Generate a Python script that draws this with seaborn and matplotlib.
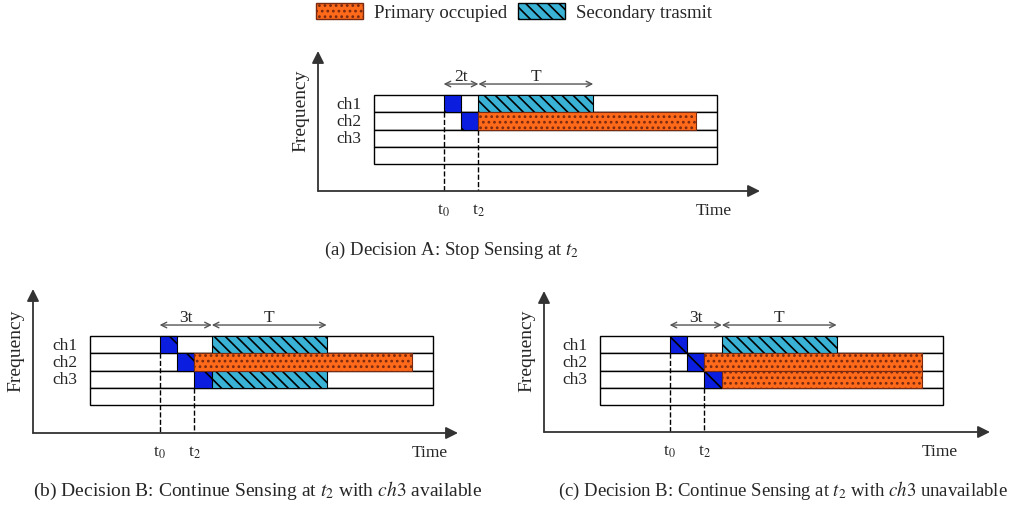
"""Channel sensing decision diagram: three panels of time/frequency slots."""

import matplotlib

matplotlib.use("Agg")

import matplotlib.pyplot as plt
import seaborn as sns
from matplotlib.patches import Patch

# ---- data (time in sensing slots, channels as rows) ----
CHANNELS = ["ch1", "ch2", "ch3", ""]
GRID_LEN = 19.7          # length of the channel grid in slots
T0 = 4.0                 # start of sensing
T2 = 6.0                 # decision time
T_LEN = 6.6              # secondary transmit duration T
PRIMARY_END = 18.5       # end of the primary occupation

A_SENSED = ["ch1", "ch2"]
A_SECONDARY = [("ch1", 6.0)]
A_PRIMARY = [("ch2", 6.0)]

B_SENSED = ["ch1", "ch2", "ch3"]
B_SECONDARY = [("ch1", 7.0), ("ch3", 7.0)]
B_PRIMARY = [("ch2", 6.0)]

C_SENSED = ["ch1", "ch2", "ch3"]
C_SECONDARY = [("ch1", 7.0)]
C_PRIMARY = [("ch2", 6.0), ("ch3", 7.0)]

CAPTIONS = [
    r"(a) Decision A: Stop Sensing at $t_2$",
    r"(b) Decision B: Continue Sensing at $t_2$ with $ch3$ available",
    r"(c) Decision B: Continue Sensing at $t_2$ with $ch3$ unavailable",
]
SENSE_LABELS = ["2t", "3t", "3t"]

# ---- styling ----
ORANGE = "#FF6A1A"
TEAL = "#3AB2D6"
BLUE = "#0B1EE0"
AXIS_GREY = "#333333"
W, H = 1016, 506
PX_SLOT, PX_ROW = 17.4, 17.2

# pixel frames: y-axis x, x-axis y, arrow tip right, arrow tip top, grid left, grid bottom
FRAMES = [
    (318, 192, 760, 52, 374, 165),
    (33, 434, 458, 290, 90, 406),
    (544, 433, 990, 292, 600, 406),
]
CAPTION_POS = [(452, 250), (258, 491), (783, 491)]
CAPTION_SIZE = [13.5, 14.0, 13.5]

sns.set_theme(style="white")
plt.rcParams["font.family"] = ["Liberation Serif", "DejaVu Serif"]
plt.rcParams["mathtext.fontset"] = "stix"
plt.rcParams["hatch.linewidth"] = 1.2


def row_of(channel):
    """Bottom y of a channel row (ch1 on top)."""
    return len(CHANNELS) - 1 - CHANNELS.index(channel)


def draw_panel(fig, frame, sensed, secondary, primary, sense_label):
    ax_x, ax_y, tip_x, tip_y, grid_x, grid_y = frame
    ax = fig.add_axes([ax_x / W, 1 - ax_y / H, (tip_x - ax_x) / W, (ax_y - tip_y) / H])
    x0 = -(grid_x - ax_x) / PX_SLOT
    y0 = -(ax_y - grid_y) / PX_ROW
    ax.set_xlim(x0, x0 + (tip_x - ax_x) / PX_SLOT)
    ax.set_ylim(y0, y0 + (ax_y - tip_y) / PX_ROW)
    ax.axis("off")

    # channel grid
    rows = [row_of(c) if c else 0 for c in CHANNELS]
    ax.barh(rows, GRID_LEN, left=0, height=1, align="edge",
            color="white", edgecolor="black", linewidth=1.0, zorder=1)
    for ch in CHANNELS:
        if ch:
            ax.text(-0.7, row_of(ch) + 0.5, ch, ha="right", va="center", fontsize=12.5)

    # sensing slots
    sense_rows = [row_of(c) for c in sensed]
    sense_starts = [T0 + i for i in range(len(sensed))]
    ax.barh(sense_rows, 1.0, left=sense_starts, height=1, align="edge",
            color=BLUE, edgecolor="black", hatch="\\", linewidth=0.8, zorder=2)

    # secondary transmissions
    ax.barh([row_of(c) for c, _ in secondary], T_LEN, left=[s for _, s in secondary],
            height=1, align="edge", color=TEAL, edgecolor="black",
            hatch="\\\\\\", linewidth=0.8, zorder=2)

    # primary occupation
    ax.barh([row_of(c) for c, _ in primary], [PRIMARY_END - s for _, s in primary],
            left=[s for _, s in primary], height=1, align="edge", color=ORANGE,
            edgecolor="#7A2A10", hatch="...", linewidth=0.8, zorder=2)

    # time markers
    ax.plot([T0, T0], [row_of(sensed[0]), y0 - 0.65], ls="--", color="black", lw=1.0, zorder=3)
    ax.plot([T2, T2], [row_of(sensed[-1]), y0 - 0.65], ls="--", color="black", lw=1.0, zorder=3)
    label_y = y0 - 1.1
    ax.text(T0, label_y, r"t$_0$", ha="center", va="center", fontsize=12.5)
    ax.text(T2, label_y, r"t$_2$", ha="center", va="center", fontsize=12.5)
    ax.text(GRID_LEN - 0.2, label_y, "Time", ha="center", va="center", fontsize=12.5)

    # interval arrows
    sense_end = T0 + (T2 - T0 if len(sensed) == 2 else len(sensed))
    top = len(CHANNELS) + 0.65
    arrow = dict(arrowstyle="<->", color="#555555", lw=1.0, shrinkA=0, shrinkB=0,
                 mutation_scale=10)
    ax.annotate("", xy=(sense_end, top), xytext=(T0, top), arrowprops=arrow)
    ax.annotate("", xy=(sense_end + T_LEN, top), xytext=(sense_end, top), arrowprops=arrow)
    ax.text((T0 + sense_end) / 2, top, sense_label, ha="center", va="bottom", fontsize=12.5)
    ax.text(sense_end + T_LEN / 2, top, "T", ha="center", va="bottom", fontsize=12.5)

    # axes with arrow heads
    axis_arrow = dict(arrowstyle="-|>", color=AXIS_GREY, lw=1.3, mutation_scale=18,
                      shrinkA=0, shrinkB=0)
    ax.annotate("", xy=(1, 0), xytext=(0, 0), xycoords="axes fraction", arrowprops=axis_arrow)
    ax.annotate("", xy=(0, 1), xytext=(0, 0), xycoords="axes fraction", arrowprops=axis_arrow)
    ax.annotate("Frequency", xy=(0, 0.58), xycoords="axes fraction", xytext=(-12, 0),
                textcoords="offset points", rotation=90, ha="center", va="center", fontsize=14)
    return ax


fig = plt.figure(figsize=(W / 100, H / 100), dpi=100)

panels = [
    (A_SENSED, A_SECONDARY, A_PRIMARY),
    (B_SENSED, B_SECONDARY, B_PRIMARY),
    (C_SENSED, C_SECONDARY, C_PRIMARY),
]
for frame, (sensed, secondary, primary), label in zip(FRAMES, panels, SENSE_LABELS):
    draw_panel(fig, frame, sensed, secondary, primary, label)

for caption, (cx, cy), size in zip(CAPTIONS, CAPTION_POS, CAPTION_SIZE):
    fig.text(cx / W, 1 - cy / H, caption, ha="center", va="center", fontsize=size)

handles = [
    Patch(facecolor=ORANGE, edgecolor="#7A2A10", hatch="...", label="Primary occupied"),
    Patch(facecolor=TEAL, edgecolor="black", hatch="\\\\\\", label="Secondary trasmit"),
]
fig.legend(handles=handles, loc="center", bbox_to_anchor=(514 / W, 1 - 13 / H), ncol=2,
           frameon=False, fontsize=13.5, handlelength=2.5, handleheight=1.0,
           handletextpad=0.6, columnspacing=0.6)

fig.savefig("out.png", dpi=100)
